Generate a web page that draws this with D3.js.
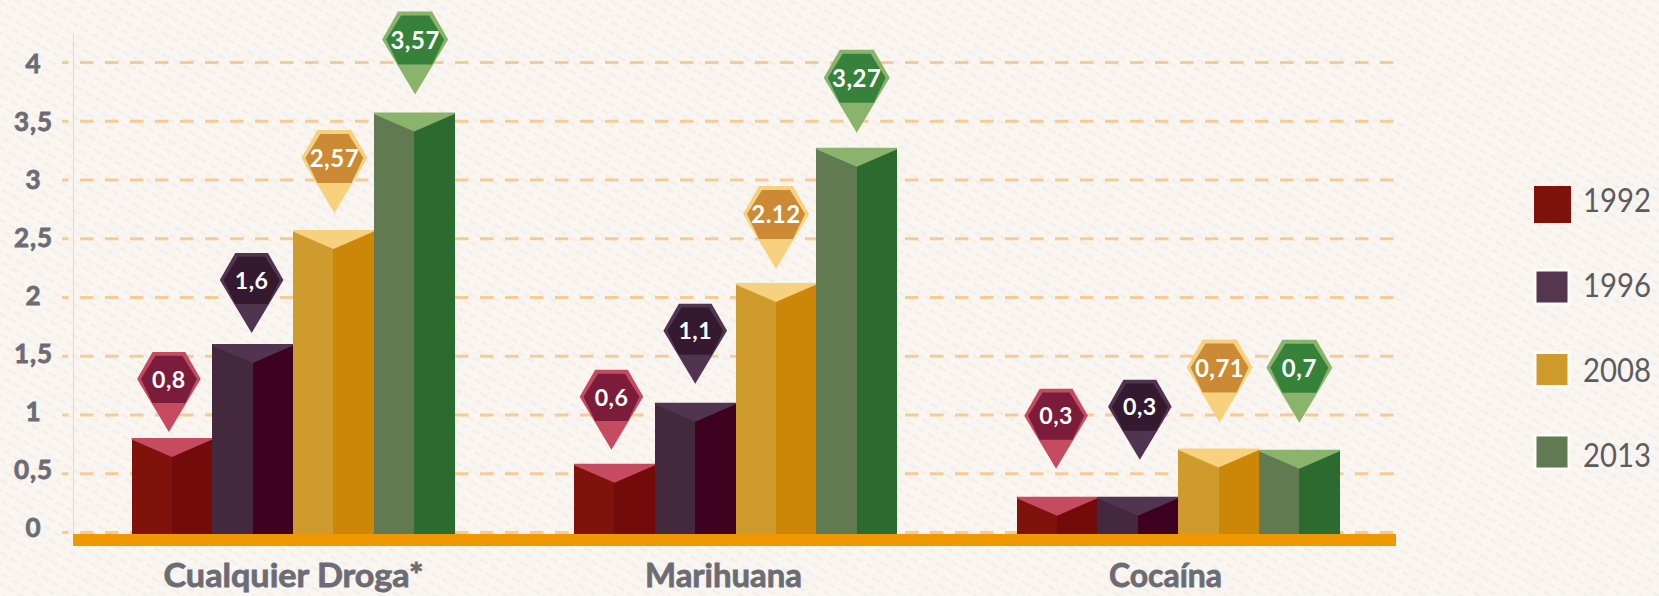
<!DOCTYPE html>
<html>
<head>
<meta charset="utf-8">
<script src="https://cdn.jsdelivr.net/npm/d3@7"></script>
<style>
  html, body { margin: 0; padding: 0; background: #f8f4ef; overflow: hidden; }
  svg { display: block; }
  text { font-family: Lato, "Open Sans", sans-serif; }
  .grid .domain { display: none; }
  .grid line { stroke: #f6cb96; stroke-width: 3; stroke-dasharray: 13.5 11.5; stroke-dashoffset: 7; }
  .tick-y text { font-size: 26px; font-weight: 700; fill: #6c6c74; stroke: #6c6c74; stroke-width: 0.8; letter-spacing: 1px; }
  .tick-x text { font-size: 33px; font-weight: 700; fill: #6c6c74; stroke: #6c6c74; stroke-width: 0.8; }
  .pin text { font-size: 24px; font-weight: 700; fill: #fff; letter-spacing: 0.5px; }
  .legend text { font-size: 33px; fill: #5c5c60; }
</style>
</head>
<body>
<script>
// data
const categories = ["Cualquier Droga*", "Marihuana", "Cocaína"];
const years      = ["1992", "1996", "2008", "2013"];
const v1992 = [0.8, 0.58, 0.3];
const v1996 = [1.6, 1.1, 0.3];
const v2008 = [2.57, 2.12, 0.71];
const v2013 = [3.57, 3.27, 0.7];
const l1992 = ["0,8", "0,6", "0,3"];
const l1996 = ["1,6", "1,1", "0,3"];
const l2008 = ["2,57", "2.12", "0,71"];
const l2013 = ["3,57", "3,27", "0,7"];
const tickValues = [0, 0.5, 1, 1.5, 2, 2.5, 3, 3.5, 4];
const tickLabels = ["0", "0,5", "1", "1,5", "2", "2,5", "3", "3,5", "4"];

const seriesValues = [v1992, v1996, v2008, v2013];
const seriesLabels = [l1992, l1996, l2008, l2013];

// colours per year
const colors = [
  { left: "#7f120b", right: "#720b0a", top: "#c74b60", pinOuter: "#c74b60", pinInner: "#7a1c3a", swatch: "#7f120b" },
  { left: "#43283e", right: "#3e0220", top: "#503450", pinOuter: "#503450", pinInner: "#35192f", swatch: "#56364e" },
  { left: "#cf9b2d", right: "#cc8608", top: "#f8d17e", pinOuter: "#f8d17e", pinInner: "#cb8a33", swatch: "#cf9b2d" },
  { left: "#627a52", right: "#2c6b30", top: "#8ab36c", pinOuter: "#8ab36c", pinInner: "#37823a", swatch: "#627a52" }
];

// pin placement: gap above bar top and shift from bar centre, [year][category]
const pinGaps = [[6, 14, 28], [11, 19, 37], [17, 14, 26], [18, 15, 27]];
const pinDx   = [[-3, -3, -1], [-1, 0, 2], [1, 0, 1], [1, 0, 0]];
const pinHeights = [80, 80, 83, 83];
// drawn widths of the condensed labels
const labelWidths = [260, 157, 113];

const width = 1659, height = 596;

const svg = d3.select("body").append("svg")
  .attr("width", width)
  .attr("height", height)
  .attr("viewBox", [0, 0, width, height]);

// background hatch
const pattern = svg.append("defs").append("pattern")
  .attr("id", "hatch")
  .attr("width", 12).attr("height", 9)
  .attr("patternUnits", "userSpaceOnUse")
  .attr("patternTransform", "rotate(30)");
pattern.append("rect").attr("width", 12).attr("height", 9).attr("fill", "#f9f5f0");
pattern.append("rect").attr("width", 8).attr("height", 2.5).attr("fill", "#f4eee8");
svg.append("rect").attr("width", width).attr("height", height).attr("fill", "url(#hatch)");

// ---------- scales ----------
const y = d3.scaleLinear().domain([0, 4]).range([532, 62]);
const yLabel = d3.scaleLinear().domain([0, 4]).range([536, 72.7]);
const x0 = d3.scaleBand().domain(categories).range([131.5, 1459.3]);
const x1 = d3.scaleBand().domain(years).range([0, 323]);
const labelX = d3.scaleOrdinal().domain(categories).range([293, 723, 1165]);

// ---------- grid ----------
svg.append("g").attr("class", "grid")
  .attr("transform", "translate(62,0)")
  .call(d3.axisLeft(y).tickValues(tickValues).tickSize(-1334).tickFormat(""));

// y axis line
svg.append("line")
  .attr("x1", 73.5).attr("x2", 73.5)
  .attr("y1", 34).attr("y2", 534)
  .attr("stroke", "#f0d9a8");

// y labels
const yG = svg.append("g").attr("class", "tick-y")
  .attr("transform", "translate(33.5,0)")
  .call(d3.axisLeft(yLabel).tickValues(tickValues).tickSize(0).tickFormat((d, i) => tickLabels[i]));
yG.select(".domain").remove();
yG.selectAll("text").attr("x", 0).attr("dy", 0).attr("text-anchor", "middle");

// ---------- bars ----------
const barBottom = y(0) + 3;
const notch = 19;

const groups = svg.selectAll(".group")
  .data(categories)
  .join("g")
  .attr("class", "group")
  .attr("transform", d => `translate(${x0(d)},0)`);

const cells = groups.selectAll(".bar")
  .data((cat, ci) => years.map((yr, si) => ({
    cat, ci, yr, si,
    value: seriesValues[si][ci],
    label: seriesLabels[si][ci]
  })))
  .join("g")
  .attr("class", "bar");

function poly(pts) {
  const p = d3.path();
  pts.forEach((q, i) => i ? p.lineTo(q[0], q[1]) : p.moveTo(q[0], q[1]));
  p.closePath();
  return p.toString();
}

cells.each(function(d) {
  const g = d3.select(this);
  const a = x1(d.yr), w = x1.bandwidth(), b = a + w, c = a + w / 2;
  const t = y(d.value);
  const col = colors[d.si];
  g.append("path").attr("fill", col.left).attr("shape-rendering", "crispEdges")
    .attr("d", poly([[a, t], [c, t], [c, barBottom], [a, barBottom]]));
  g.append("path").attr("fill", col.right).attr("shape-rendering", "crispEdges")
    .attr("d", poly([[c, t], [b, t], [b, barBottom], [c, barBottom]]));
  g.append("path").attr("fill", col.top)
    .attr("d", poly([[a, t], [b, t], [b, t + 1.5], [c, t + notch], [a, t + 1.5]]));
});

// ---------- pins ----------
cells.each(function(d) {
  const c = x1(d.yr) + x1.bandwidth() / 2 + pinDx[d.si][d.ci];
  const tip = y(d.value) - pinGaps[d.si][d.ci];
  const col = colors[d.si];
  const s = pinHeights[d.si] / 83;
  // pin drawn from its tip upward
  const g = d3.select(this).append("g").attr("class", "pin")
    .attr("transform", `translate(${c},${tip}) scale(${s})`);
  g.append("path").attr("fill", col.pinOuter).attr("d", poly([
    [0, 0], [-33, -55], [-17, -83], [17, -83], [33, -55]
  ]));
  g.append("path").attr("fill", col.pinInner).attr("d", poly([
    [-17, -30], [-29, -55], [-14, -79], [14, -79], [29, -55], [17, -30]
  ]));
  g.append("text")
    .attr("text-anchor", "middle")
    .attr("y", -46)
    .text(d.label);
});

// ---------- baseline ----------
svg.append("rect")
  .attr("x", 73).attr("y", 534)
  .attr("width", 1323).attr("height", 12)
  .attr("fill", "#ef9800");

// ---------- category labels ----------
const xG = svg.append("g").attr("class", "tick-x")
  .attr("transform", "translate(0,587)")
  .call(d3.axisBottom(labelX).tickSize(0));
xG.select(".domain").remove();
xG.selectAll("text")
  .attr("y", 0).attr("dy", 0)
  .attr("textLength", (d, i) => labelWidths[i])
  .attr("lengthAdjust", "spacingAndGlyphs");

// ---------- legend ----------
const swatchY = d3.scalePoint().domain(years).range([204.5, 452]);
const textY   = d3.scalePoint().domain(years).range([211.7, 466.7]);
const legend = svg.append("g").attr("class", "legend");
const rows = legend.selectAll("g").data(years).join("g");
rows.append("rect")
  .attr("x", d => d === "1992" ? 1534 : 1535)
  .attr("y", d => swatchY(d) - (d === "1992" ? 18.5 : 17))
  .attr("width", d => d === "1992" ? 37 : 34)
  .attr("height", d => d === "1992" ? 37 : 34)
  .attr("fill", (d, i) => colors[i].swatch)
  .attr("stroke", d => d === "1992" ? "none" : "#fdfbf8")
  .attr("stroke-width", 3);
rows.append("text")
  .attr("x", 1583)
  .attr("y", d => textY(d))
  .attr("textLength", 68)
  .attr("lengthAdjust", "spacingAndGlyphs")
  .text(d => d);
</script>
</body>
</html>
